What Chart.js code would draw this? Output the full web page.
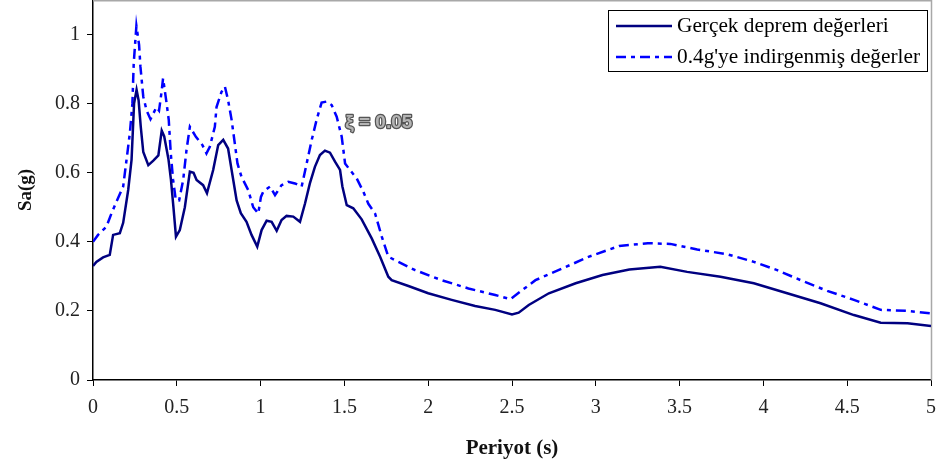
<!DOCTYPE html>
<html>
<head>
<meta charset="utf-8">
<script src="https://cdn.jsdelivr.net/npm/chart.js@4"></script>
<style>
  html, body { margin: 0; padding: 0; background: #fff; }
  #wrap { width: 941px; height: 467px; }
</style>
</head>
<body>
<div id="wrap"><canvas id="spectrumChart" width="941" height="467"></canvas></div>
<script>
// Gerçek deprem değerleri (solid)
const periodReal = [0, 0.02, 0.06, 0.10, 0.12, 0.16, 0.18, 0.21, 0.23, 0.245, 0.26, 0.272, 0.285, 0.30, 0.33, 0.36, 0.39, 0.41, 0.425, 0.45,
  0.465, 0.48, 0.495, 0.518, 0.548, 0.578, 0.60, 0.618, 0.657, 0.68, 0.717, 0.747, 0.777, 0.806, 0.827, 0.857, 0.882, 0.916, 0.946, 0.98,
  1.006, 1.036, 1.066, 1.096, 1.125, 1.155, 1.195, 1.235, 1.265, 1.294, 1.324, 1.354, 1.384, 1.414, 1.444, 1.474, 1.488, 1.514, 1.553, 1.603,
  1.663, 1.713, 1.762, 1.782, 1.882, 2.0, 2.14, 2.28, 2.40, 2.50, 2.54, 2.60, 2.72, 2.88, 3.04, 3.20, 3.385, 3.545, 3.744, 3.943,
  4.142, 4.341, 4.54, 4.70, 4.86, 5.0];
const saReal = [0.33, 0.342, 0.355, 0.362, 0.42, 0.425, 0.455, 0.55, 0.637, 0.80, 0.84, 0.81, 0.733, 0.66, 0.622, 0.635, 0.65, 0.722, 0.705, 0.64,
  0.58, 0.50, 0.415, 0.434, 0.50, 0.603, 0.60, 0.579, 0.564, 0.541, 0.608, 0.68, 0.695, 0.67, 0.608, 0.52, 0.483, 0.458, 0.42, 0.386,
  0.434, 0.461, 0.458, 0.432, 0.463, 0.475, 0.473, 0.458, 0.511, 0.569, 0.617, 0.651, 0.664, 0.658, 0.632, 0.608, 0.56, 0.506, 0.497, 0.465,
  0.41, 0.357, 0.299, 0.289, 0.272, 0.251, 0.232, 0.214, 0.203, 0.19, 0.195, 0.217, 0.251, 0.28, 0.304, 0.32, 0.328, 0.313, 0.299, 0.28,
  0.251, 0.222, 0.188, 0.166, 0.164, 0.156];

// 0.4g'ye indirgenmiş değerler (dash-dot)
const periodScaled = [0, 0.03, 0.08, 0.11, 0.14, 0.18, 0.20, 0.22, 0.235, 0.243, 0.259, 0.275, 0.283, 0.30, 0.32, 0.343, 0.379, 0.394, 0.408, 0.418,
  0.438, 0.452, 0.464, 0.478, 0.494, 0.514, 0.538, 0.558, 0.578, 0.614, 0.653, 0.677, 0.697, 0.727, 0.737, 0.767, 0.787, 0.806, 0.827, 0.846,
  0.862, 0.886, 0.926, 0.956, 0.986, 1.002, 1.016, 1.056, 1.086, 1.125, 1.165, 1.205, 1.245, 1.275, 1.305, 1.334, 1.364, 1.394, 1.424, 1.454,
  1.484, 1.504, 1.533, 1.573, 1.613, 1.643, 1.683, 1.723, 1.762, 1.802, 1.922, 2.08, 2.24, 2.40, 2.49, 2.55, 2.64, 2.80, 2.96, 3.14,
  3.31, 3.445, 3.605, 3.784, 3.943, 4.082, 4.222, 4.381, 4.54, 4.70, 4.86, 5.0];
const saScaled = [0.40, 0.42, 0.444, 0.482, 0.516, 0.56, 0.637, 0.715, 0.80, 0.917, 1.025, 0.97, 0.907, 0.82, 0.78, 0.755, 0.79, 0.78, 0.83, 0.873,
  0.805, 0.753, 0.656, 0.579, 0.521, 0.52, 0.579, 0.666, 0.733, 0.704, 0.68, 0.656, 0.675, 0.733, 0.79, 0.834, 0.849, 0.81, 0.753, 0.685,
  0.627, 0.588, 0.55, 0.50, 0.482, 0.53, 0.545, 0.56, 0.535, 0.564, 0.574, 0.569, 0.56, 0.627, 0.695, 0.753, 0.803, 0.806, 0.796, 0.762,
  0.704, 0.627, 0.608, 0.584, 0.545, 0.51, 0.482, 0.415, 0.357, 0.347, 0.318, 0.289, 0.265, 0.246, 0.234, 0.256, 0.289, 0.323, 0.357, 0.388,
  0.396, 0.394, 0.378, 0.364, 0.342, 0.318, 0.289, 0.258, 0.232, 0.203, 0.20, 0.193];

const xTicks = [0, 0.5, 1, 1.5, 2, 2.5, 3, 3.5, 4, 4.5, 5];
const yTicks = [0, 0.2, 0.4, 0.6, 0.8, 1];
const seriesNames = ['Gerçek deprem değerleri', "0.4g'ye indirgenmiş değerler"];
const dampingNote = 'ξ = 0.05';

const serif = '"Liberation Serif", "Times New Roman", serif';

function toPoints(xs, ys) {
  return xs.map((x, i) => ({ x: x, y: ys[i] }));
}

// grey frame on the top and right of the plot area
const framePlugin = {
  id: 'frame',
  beforeDatasetsDraw(chart) {
    const { ctx, chartArea } = chart;
    ctx.save();
    ctx.strokeStyle = '#a8a8a8';
    ctx.lineWidth = 1.5;
    ctx.beginPath();
    ctx.moveTo(chartArea.left, chartArea.top + 0.75);
    ctx.lineTo(chartArea.right + 0.5, chartArea.top + 0.75);
    ctx.lineTo(chartArea.right + 0.5, chartArea.bottom);
    ctx.stroke();
    ctx.restore();
  }
};

// damping ratio note next to the second peak
const notePlugin = {
  id: 'note',
  afterDatasetsDraw(chart) {
    const { ctx, scales } = chart;
    const x = scales.x.getPixelForValue(1.505);
    const y = scales.y.getPixelForValue(0.745);
    ctx.save();
    ctx.font = 'bold 19px "Liberation Sans", Arial, sans-serif';
    ctx.textBaseline = 'middle';
    ctx.lineJoin = 'round';
    ctx.lineWidth = 2.5;
    ctx.strokeStyle = '#555';
    ctx.strokeText(dampingNote, x, y);
    ctx.fillStyle = '#b4b4b4';
    ctx.fillText(dampingNote, x, y);
    ctx.restore();
  }
};

// boxed legend inside the plot area, top right
const boxLegendPlugin = {
  id: 'boxLegend',
  afterDraw(chart) {
    const { ctx, chartArea } = chart;
    const w = 319, h = 61;
    const left = chartArea.right - 4 - w;
    const top = chartArea.top + 10;
    ctx.save();
    ctx.fillStyle = '#fff';
    ctx.fillRect(left, top, w, h);
    ctx.strokeStyle = '#000';
    ctx.lineWidth = 1;
    ctx.strokeRect(left + 0.5, top + 0.5, w, h);
    ctx.font = '20px ' + serif;
    ctx.textBaseline = 'middle';
    chart.data.datasets.forEach((ds, i) => {
      const y = top + 16 + i * 31;
      ctx.strokeStyle = ds.borderColor;
      ctx.lineWidth = ds.borderWidth;
      ctx.setLineDash(ds.borderDash || []);
      ctx.beginPath();
      ctx.moveTo(left + 8, y);
      ctx.lineTo(left + 64, y);
      ctx.stroke();
      ctx.setLineDash([]);
      ctx.fillStyle = '#000';
      // the original text is set a bit wider than the plain font
      ctx.save();
      ctx.translate(left + 69, y + 1);
      ctx.scale(1.065, 1);
      ctx.fillText(ds.label, 0, 0);
      ctx.restore();
    });
    ctx.restore();
  }
};

const spectrumCtx = document.getElementById('spectrumChart').getContext('2d');

new Chart(spectrumCtx, {
  type: 'scatter',
  data: {
    datasets: [{
      label: seriesNames[0],
      data: toPoints(periodReal, saReal),
      showLine: true,
      borderColor: '#000080',
      borderWidth: 2.5,
      pointRadius: 0,
      tension: 0
    }, {
      label: seriesNames[1],
      data: toPoints(periodScaled, saScaled),
      showLine: true,
      borderColor: '#0000ff',
      borderWidth: 2.5,
      borderDash: [10, 5, 4, 5],
      pointRadius: 0,
      tension: 0
    }]
  },
  options: {
    responsive: false,
    animation: false,
    layout: { padding: { top: 0, right: 10, bottom: 0, left: 0 } },
    plugins: {
      legend: { display: false },
      tooltip: { enabled: false }
    },
    scales: {
      x: {
        type: 'linear',
        min: 0,
        max: 5,
        afterBuildTicks: axis => { axis.ticks = xTicks.map(v => ({ value: v })); },
        afterFit: axis => { axis.height = 87; axis.paddingLeft = 0; axis.paddingRight = 0; },
        ticks: {
          color: '#222',
          font: { family: serif, size: 20 },
          padding: 10,
          maxRotation: 0,
          callback: v => String(v)
        },
        grid: { drawOnChartArea: false, drawTicks: true, tickLength: 6, color: '#000' },
        border: { color: '#000', width: 1.5 },
        title: {
          display: true,
          text: 'Periyot (s)',
          color: '#111',
          font: { family: serif, size: 21, weight: 'bold' },
          padding: { top: 0, bottom: 6 }
        }
      },
      y: {
        type: 'linear',
        min: 0,
        max: 1.1,
        afterBuildTicks: axis => { axis.ticks = yTicks.map(v => ({ value: v })); },
        afterFit: axis => { axis.width = 93; axis.paddingTop = 0; axis.paddingBottom = 0; },
        ticks: {
          color: '#222',
          font: { family: serif, size: 20 },
          padding: 7,
          callback: v => String(v)
        },
        grid: { drawOnChartArea: false, drawTicks: true, tickLength: 6, color: '#000' },
        border: { color: '#000', width: 1.5 },
        title: {
          display: true,
          text: 'Sa(g)',
          color: '#111',
          font: { family: serif, size: 19, weight: 'bold' },
          padding: { top: 15, bottom: 0 }
        }
      }
    }
  },
  plugins: [framePlugin, notePlugin, boxLegendPlugin]
});
</script>
</body>
</html>
